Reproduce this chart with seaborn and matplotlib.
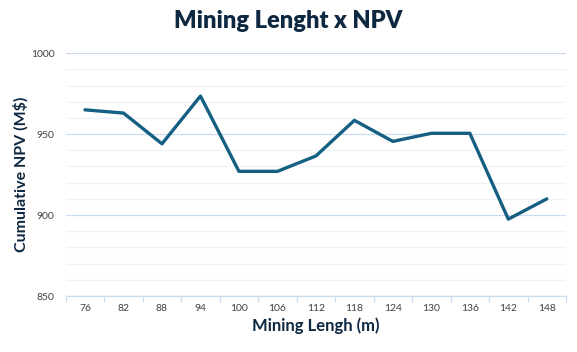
import matplotlib
matplotlib.use("Agg")
import matplotlib.pyplot as plt
import seaborn as sns
import pandas as pd
from matplotlib.ticker import MultipleLocator, FixedLocator

lengths = ["76", "82", "88", "94", "100", "106", "112", "118", "124", "130", "136", "142", "148"]
npv = [965, 963, 944, 973.5, 927, 927, 936.5, 958.5, 945.5, 950.5, 950.5, 897.5, 910]

df = pd.DataFrame({"pos": range(len(lengths)), "npv": npv})

sns.set_theme(style="white")
plt.rcParams['font.family'] = ['Lato', 'DejaVu Sans']

fig = plt.figure(figsize=(5.77, 3.52), dpi=100)
ax = fig.add_axes([0.114, 0.159, 0.867, 0.690])

sns.lineplot(data=df, x="pos", y="npv", ax=ax, color="#156082", linewidth=2.4)

ax.set_xlim(-0.5, len(lengths) - 0.5)
ax.set_ylim(850, 1000)
ax.yaxis.set_major_locator(MultipleLocator(50))
ax.yaxis.set_minor_locator(MultipleLocator(10))
ax.grid(True, which="major", axis="y", color="#c9dcf0", linewidth=0.9)
ax.grid(True, which="minor", axis="y", color="#edf2f9", linewidth=0.9)
ax.grid(False, axis="x")
ax.set_axisbelow(True)

ax.set_xticks(range(len(lengths)))
ax.set_xticklabels(lengths)
ax.xaxis.set_minor_locator(FixedLocator([i - 0.5 for i in range(len(lengths) + 1)]))
ax.tick_params(axis="x", which="major", length=0, labelsize=7.5, labelcolor="#404040", pad=6)
ax.tick_params(axis="x", which="minor", length=4, color="#c9dcf0", width=0.9, bottom=True)
ax.tick_params(axis="y", which="both", length=0, labelsize=7.5, labelcolor="#404040", pad=8)

for s in ["top", "right", "left"]:
    ax.spines[s].set_visible(False)
ax.spines["bottom"].set_color("#c9dcf0")
ax.spines["bottom"].set_linewidth(0.9)

ax.set_xlabel("Mining Lengh (m)", fontsize=12, fontweight="bold", color="#0e2841", labelpad=3)
ax.set_ylabel("Cumulative NPV (M$)", fontsize=11.5, fontweight="bold", color="#0e2841")
ax.yaxis.set_label_coords(-0.075, 0.5)
fig.suptitle("Mining Lenght x NPV", fontsize=17, fontweight="heavy", color="#0e2841", x=0.5, y=0.972)

fig.savefig("out.png", dpi=100, facecolor="white")
